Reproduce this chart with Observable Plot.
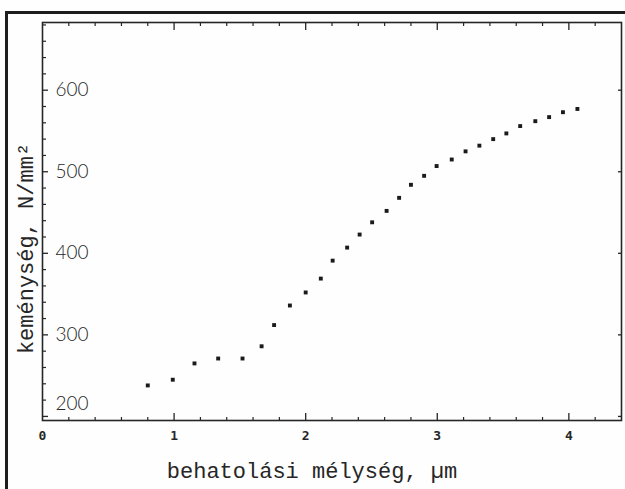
<!DOCTYPE html>
<html><head><meta charset="utf-8">
<script src="https://cdn.jsdelivr.net/npm/d3@7"></script>
<script src="https://cdn.jsdelivr.net/npm/@observablehq/plot@0.6"></script>
<style>
html,body{margin:0;padding:0;background:#fefefe;width:625px;height:489px;overflow:hidden}
#page{position:absolute;left:5px;top:11px;width:660px;height:520px;border-top:3.5px solid #1e1e1e;border-left:3px solid #1e1e1e}
#chart{position:absolute;left:0;top:0}
</style></head><body>
<div id="page"></div><div id="chart"></div>
<script>
// behatolási mélység (µm)
const depth = [0.80, 0.99, 1.155, 1.335, 1.52, 1.665, 1.76, 1.88, 2.00, 2.115, 2.205, 2.315, 2.41, 2.505,
  2.615, 2.71, 2.80, 2.90, 2.995, 3.11, 3.215, 3.32, 3.425, 3.525, 3.63, 3.745, 3.85, 3.955, 4.065];
// keménység (N/mm²)
const hardness = [238, 245, 265, 271, 271, 286, 312, 336, 352, 369, 391, 407, 423, 438,
  452, 468, 484, 495, 507, 515, 525, 532, 540, 547, 556, 562, 567, 573, 577];

const xLabels = [0, 1, 2, 3, 4];
const xMajorTicks = [1, 2, 3, 4];
const xMinorTicks = [0.2, 0.4, 0.6, 0.8, 1.2, 1.4, 1.6, 1.8, 2.2, 2.4, 2.6, 2.8, 3.2, 3.4, 3.6, 3.8, 4.2];
const yLabels = [300, 400, 500, 600];
const yLowLabel = [200];
const yMajorTicks = [200, 300, 400, 500, 600];
const yMinorTicks = [220, 240, 260, 280, 320, 340, 360, 380, 420, 440, 460, 480, 520, 540, 560, 580, 620, 640, 660, 680];
const xTitle = "behatolási mélység, µm";
const yTitle = "keménység, N/mm²";

const data = depth.map((d, i) => ({depth: d, hardness: hardness[i]}));
const ink = "#262626";
const blank = () => "";

// inward-pointing tick marks: draw outward ticks and shift them by their own length
const inTicksX = (ticks, anchor, size, sw) => Plot.axisX(ticks, {anchor, tickSize: size,
  dy: anchor === "bottom" ? -size : size, tickFormat: blank, label: null, strokeWidth: sw});
const inTicksY = (ticks, anchor, size, sw) => Plot.axisY(ticks, {anchor, tickSize: size,
  dx: anchor === "left" ? size : -size, tickFormat: blank, label: null, strokeWidth: sw});

const chart = Plot.plot({
  width: 625, height: 489,
  marginLeft: 42, marginRight: 4, marginTop: 22, marginBottom: 69,
  x: {domain: [0, 4.4], label: null},
  y: {domain: [195, 683], label: null},
  style: {background: "transparent", color: ink},
  marks: [
    Plot.frame({stroke: ink, strokeWidth: 1.6}),
    inTicksX(xMinorTicks, "bottom", 3, 1.2),
    inTicksX(xMajorTicks, "bottom", 7, 1.3),
    inTicksX(xMinorTicks, "top", 3, 1.2),
    inTicksX(xMajorTicks, "top", 7, 1.3),
    inTicksY(yMinorTicks, "left", 4, 1.2),
    inTicksY(yMajorTicks, "left", 6, 1.3),
    inTicksY(yMajorTicks, "right", 4, 1.3),
    // tick labels
    Plot.axisX(xLabels, {anchor: "bottom", tickSize: 0, tickPadding: 10, label: null, tickFormat: d => String(d),
      fontFamily: "DejaVu Sans Mono", fontWeight: "bold", fontSize: 13}),
    Plot.axisY(yLabels, {anchor: "left", tickSize: 0, tickPadding: 0, dx: 13, textAnchor: "start", label: null,
      fontFamily: "Lato", fontWeight: 300, fontSize: 19, letterSpacing: "1px"}),
    Plot.axisY(yLowLabel, {anchor: "left", tickSize: 0, tickPadding: 0, dx: 13, dy: -13, textAnchor: "start", label: null,
      fontFamily: "Lato", fontWeight: 300, fontSize: 19, letterSpacing: "1px"}),
    // data
    Plot.dot(data, {x: "depth", y: "hardness", symbol: "square", r: 2.2, fill: "#1a1a1a", stroke: null}),
    // axis titles
    Plot.text([xTitle], {text: d => d, frameAnchor: "bottom", dx: -20, dy: 50, lineAnchor: "middle",
      fontFamily: "Liberation Mono", fontSize: 22, fill: ink}),
    Plot.text([yTitle], {text: d => d, frameAnchor: "left", dx: -17, dy: 27, rotate: -90,
      textAnchor: "middle", lineAnchor: "middle",
      fontFamily: "Liberation Mono", fontSize: 22, fill: ink})
  ]
});
document.getElementById("chart").appendChild(chart);
</script>
</body></html>
